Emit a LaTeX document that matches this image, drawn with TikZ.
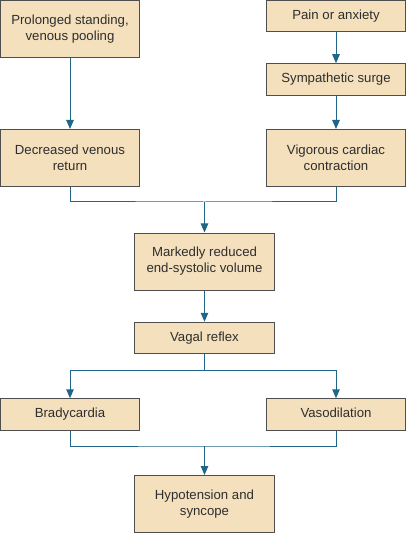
\documentclass[tikz,border=0pt]{standalone}
\usepackage{fontspec}
\setmainfont{Liberation Sans}
\usetikzlibrary{arrows.meta}
\definecolor{boxfill}{HTML}{F4E0BD}
\definecolor{boxline}{HTML}{4E4E4E}
\definecolor{textgray}{HTML}{2E2E2E}
\definecolor{flowblue}{HTML}{1F6688}

\begin{document}
\begin{tikzpicture}[x=1pt,y=-1pt]
\tikzset{
  causebox/.style={rectangle,draw=boxline,fill=boxfill,line width=1pt,minimum width=139pt,minimum height=57pt,inner sep=2pt,align=center,text=textgray,font=\fontsize{13.2}{16}\selectfont},
  shortbox/.style={causebox,minimum height=31.5pt,text height=9.5pt,text depth=2.8pt},
  directed/.style={-{Triangle[length=9pt,width=7.5pt]},draw=flowblue,line width=1pt},
  joined/.style={draw=flowblue,line width=1pt}
}
\useasboundingbox (0,0) rectangle (407,534);
\node[causebox] (n_stand) at (70,29) {Prolonged standing,\\venous pooling};
\node[shortbox] (n_pain) at (336,16) {Pain or anxiety};
\node[shortbox] (n_surge) at (336,79.5) {Sympathetic surge};
\node[causebox] (n_return) at (70,158) {Decreased venous\\return};
\node[causebox] (n_vigor) at (336,158) {Vigorous cardiac\\contraction};
\node[causebox,minimum width=140pt] (n_esv) at (204.5,261.5) {Markedly reduced\\end-systolic volume};
\node[shortbox,minimum width=140pt] (n_vagal) at (204.5,338) {Vagal reflex};
\node[shortbox] (n_brady) at (70,414.5) {Bradycardia};
\node[shortbox] (n_vaso) at (336,414.5) {Vasodilation};
\node[causebox,minimum width=140pt] (n_hypo) at (204.5,504) {Hypotension and\\syncope};
\coordinate (j_top) at (204.5,202);
\coordinate (j_split) at (204.5,370);
\coordinate (j_low) at (204.5,446);
\draw[directed] (n_stand) -- (n_return);
\draw[directed] (n_pain) -- (n_surge);
\draw[directed] (n_surge) -- (n_vigor);
\draw[joined] (n_return.south) |- (j_top) -| (n_vigor.south);
\draw[directed] (j_top) -- (n_esv);
\draw[directed] (n_esv) -- (n_vagal);
\draw[joined] (n_vagal) -- (j_split);
\draw[directed] (j_split) -| (n_brady);
\draw[directed] (j_split) -| (n_vaso);
\draw[joined] (n_brady.south) |- (j_low) -| (n_vaso.south);
\draw[directed] (j_low) -- (n_hypo);
\end{tikzpicture}
\end{document}
